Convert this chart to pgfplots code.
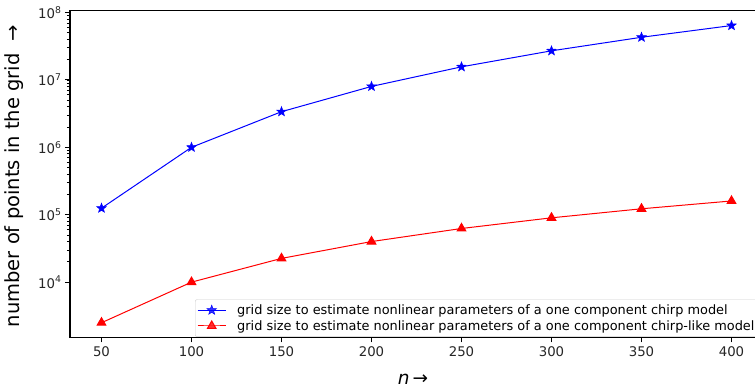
\documentclass[border=0pt]{standalone}
\usepackage{fontspec}
\setmainfont{DejaVu Sans}
\usepackage{pgfplots}
\pgfplotsset{compat=1.18}
\pgfdeclareplotmark{fstar}{%
  \pgfpathmoveto{\pgfqpointpolar{90}{\pgfplotmarksize}}%
  \pgfpathlineto{\pgfqpointpolar{126}{0.42\pgfplotmarksize}}%
  \pgfpathlineto{\pgfqpointpolar{162}{\pgfplotmarksize}}%
  \pgfpathlineto{\pgfqpointpolar{198}{0.42\pgfplotmarksize}}%
  \pgfpathlineto{\pgfqpointpolar{234}{\pgfplotmarksize}}%
  \pgfpathlineto{\pgfqpointpolar{270}{0.42\pgfplotmarksize}}%
  \pgfpathlineto{\pgfqpointpolar{306}{\pgfplotmarksize}}%
  \pgfpathlineto{\pgfqpointpolar{342}{0.42\pgfplotmarksize}}%
  \pgfpathlineto{\pgfqpointpolar{18}{\pgfplotmarksize}}%
  \pgfpathlineto{\pgfqpointpolar{54}{0.42\pgfplotmarksize}}%
  \pgfpathclose
  \pgfusepathqfillstroke
}
\begin{document}
\begin{tikzpicture}[x=1pt,y=1pt]
\begin{semilogyaxis}[
  scale only axis,
  width=693pt, height=327pt,
  xmin=32.5, xmax=417.5,
  ymin=1510, ymax=1.07e8,
  axis line style={line width=1.5pt, -},
  tick pos=left,
  tick align=outside,
  major tick length=5pt, minor tick length=3pt,
  every tick/.style={black, line width=0.9pt},
  minor tick style={line width=0.7pt},
  xtick={50,100,150,200,250,300,350,400},
  xticklabels={50,100,150,200,250,300,350,400},
  ytick={1e4,1e5,1e6,1e7,1e8},
  yticklabels={10\textsuperscript{4},10\textsuperscript{5},10\textsuperscript{6},10\textsuperscript{7},10\textsuperscript{8}},
  ticklabel style={font=\fontsize{13.3}{15}\selectfont, text=black!85},
  xticklabel style={yshift=-1pt},
  xlabel={\textit{n}\,→},
  ylabel={number of points in the grid\ \ →},
  label style={font=\fontsize{19.5}{22}\selectfont},
  xlabel style={at={(axis description cs:0.495,0)}, anchor=north, yshift=-33pt, font=\fontsize{18.5}{21}\selectfont},
  ylabel style={at={(axis description cs:0,0.5)}, anchor=south, yshift=43pt, xshift=-2pt},
  legend style={at={(axis description cs:0.1804,0.002)}, anchor=south west,
    font=\fontsize{12.9}{14.5}\selectfont, draw=black!20, rounded corners=2pt,
    fill=white, fill opacity=0.8, text opacity=1, row sep=0.5pt,
    inner xsep=2pt, inner ysep=3pt,
    /tikz/every odd column/.append style={column sep=9pt}},
  legend cell align=left,
  legend image code/.code={
    \draw[mark repeat=2,mark phase=2] plot coordinates {(0pt,0pt) (14pt,0pt) (28pt,0pt)};
  },
]
\addplot[blue, line width=1pt, mark=fstar, mark size=5pt, mark options={line width=0.5pt}]
coordinates {(50,125000) (100,1000000) (150,3375000) (200,8000000) (250,15625000) (300,27000000) (350,42875000) (400,64000000)};
\addlegendentry{grid size to estimate nonlinear parameters of a one component chirp model}
\addplot[red, line width=1pt, mark=triangle*, mark size=5pt]
coordinates {(50,2500) (100,10000) (150,22500) (200,40000) (250,62500) (300,90000) (350,122500) (400,160000)};
\addlegendentry{grid size to estimate nonlinear parameters of a one component chirp-like model}
\end{semilogyaxis}
\pgfresetboundingbox
\useasboundingbox ([xshift=-70pt,yshift=-53.5pt]current axis.south west) rectangle ([xshift=685pt,yshift=10.5pt]current axis.north west);
\end{tikzpicture}
\end{document}
